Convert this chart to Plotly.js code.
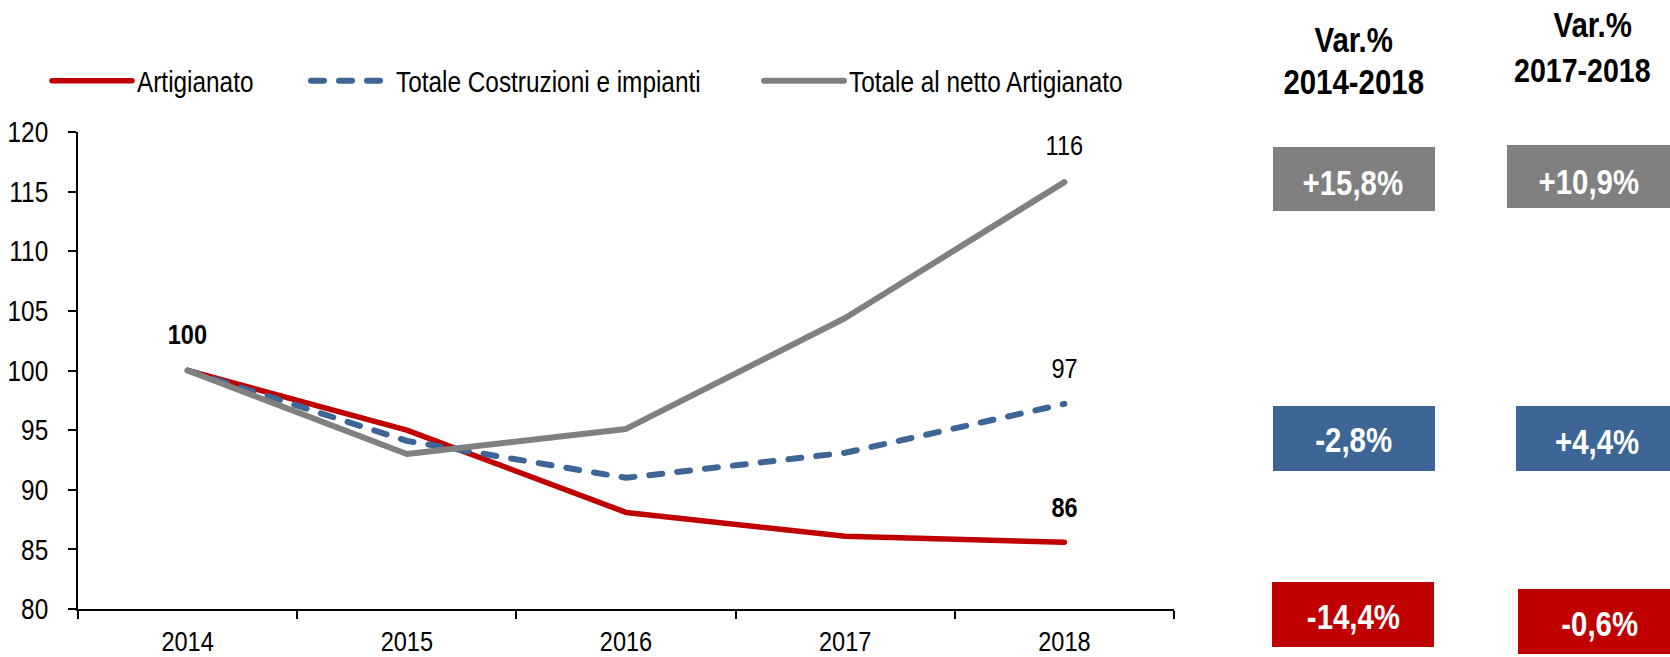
<!DOCTYPE html>
<html>
<head>
<meta charset="utf-8">
<script src="https://cdn.plot.ly/plotly-3.0.1.min.js"></script>
<style>html,body{margin:0;padding:0;background:#fff;}#chart{width:1670px;height:657px;}</style>
</head>
<body>
<div id="chart"></div>
<script>
// ---- data ----
const years = ['2014', '2015', '2016', '2017', '2018'];
const artigianato = [100, 95.0, 88.1, 86.1, 85.6];
const totaleCostruzioni = [100, 94.1, 91.0, 93.1, 97.2];
const totaleNetto = [100, 93.0, 95.1, 104.4, 115.8];
const seriesNames = ['Artigianato', 'Totale Costruzioni e impianti', 'Totale al netto Artigianato'];
const yTicks = [80, 85, 90, 95, 100, 105, 110, 115, 120];

// ---- styles ----
const FONT = '"Liberation Sans", Arial, sans-serif';
const NARROW = 0.84; // horizontal condensation applied to text (Arial Narrow look)
const RED = '#C00000', BLUE = '#3D6596', GREY = '#808080';

// plot area in pixels
const L = 78, R = 1174, T = 132, B = 609, W = 1670, H = 657;
const px = x => (x - L) / (R - L);
const py = y => (B - y) / (B - T);

const traces = [
  {x: years, y: artigianato, name: seriesNames[0], type: 'scatter', mode: 'lines',
   line: {color: RED, width: 5.5}, legend: 'legend'},
  {x: years, y: totaleCostruzioni, name: seriesNames[1], type: 'scatter', mode: 'lines',
   line: {color: BLUE, width: 6, dash: '13px,15px'}, legend: 'legend2'},
  {x: years, y: totaleNetto, name: seriesNames[2], type: 'scatter', mode: 'lines',
   line: {color: GREY, width: 6}, legend: 'legend3'}
];

const annotations = [];
const last = years.length - 1;
function dataLabel(idx, val, bold, shift) {
  annotations.push({x: idx, y: val, xref: 'x', yref: 'y', text: String(Math.round(val)),
    showarrow: false, yshift: shift, xanchor: 'center', yanchor: 'middle',
    font: {family: FONT, size: 28, color: '#000', weight: bold ? 'bold' : 'normal'}});
}
dataLabel(0, artigianato[0], true, 36);
dataLabel(last, totaleNetto[last], false, 37);
dataLabel(last, totaleCostruzioni[last], false, 35);
dataLabel(last, artigianato[last], true, 35);

// variation panel
function pct(a, b) {
  const v = (b / a - 1) * 100;
  return (v >= 0 ? '+' : '-') + Math.abs(v).toFixed(1).replace('.', ',') + '%';
}
const shapes = [];
const boxes = [
  // [x0, x1, y0, y1, colour, text, textX, textY]  (pixels)
  [1273, 1435, 147, 211, GREY, pct(totaleNetto[0], totaleNetto[last]), 1353, 182],
  [1273, 1435, 406, 471, BLUE, pct(totaleCostruzioni[0], totaleCostruzioni[last]), 1353, 440],
  [1272, 1434, 582, 647, RED, pct(artigianato[0], artigianato[last]), 1353, 616],
  [1507, 1670, 145, 208, GREY, pct(totaleNetto[last - 1], totaleNetto[last]), 1589, 181],
  [1516, 1670, 406, 471, BLUE, pct(totaleCostruzioni[last - 1], totaleCostruzioni[last]), 1597, 441],
  [1518, 1670, 589, 654, RED, pct(artigianato[last - 1], artigianato[last]), 1599, 623]
];
boxes.forEach(b => {
  shapes.push({type: 'rect', xref: 'paper', yref: 'paper', x0: px(b[0]), x1: px(b[1]), y0: py(b[3]), y1: py(b[2]),
    fillcolor: b[4], line: {width: 0}, layer: 'above'});
  annotations.push({xref: 'paper', yref: 'paper', x: px(b[6]), y: py(b[7]), xanchor: 'center', yanchor: 'middle',
    text: b[5], showarrow: false, font: {family: FONT, size: 35, color: '#fff', weight: 'bold'}});
});
function header(text, cx, cy, size) {
  annotations.push({xref: 'paper', yref: 'paper', x: px(cx), y: py(cy), xanchor: 'center', yanchor: 'middle',
    text: text, showarrow: false, font: {family: FONT, size: size, color: '#000', weight: 'bold'}});
}
header('Var.%', 1353, 40, 35);
header(years[0] + '-' + years[last], 1353, 82, 35);
header('Var.%', 1592, 25, 35);
header(years[last - 1] + '-' + years[last], 1582, 70, 34);

function legendAt(x) {
  return {orientation: 'h', x: px(x), xanchor: 'left', y: py(81), yanchor: 'middle',
    font: {family: FONT, size: 29, color: '#000'}, itemwidth: 80, bgcolor: 'rgba(0,0,0,0)', borderwidth: 0};
}

const layout = {
  width: W, height: H,
  margin: {l: L, r: W - R, t: T, b: H - B, pad: 0},
  paper_bgcolor: '#fff', plot_bgcolor: '#fff',
  font: {family: FONT, size: 29, color: '#000'},
  showlegend: true,
  legend: legendAt(47),
  legend2: legendAt(306),
  legend3: legendAt(759),
  xaxis: {type: 'category', range: [-0.5, 4.5], showline: true, linecolor: '#000', linewidth: 2,
    ticks: 'outside', tickson: 'boundaries', ticklen: 8, tickcolor: '#000', tickwidth: 2,
    showgrid: false, zeroline: false, fixedrange: true, tickfont: {family: FONT, size: 28},
    ticklabelstandoff: 6},
  yaxis: {range: [80, 120], tickvals: yTicks, ticktext: yTicks.map(String), showline: true,
    linecolor: '#000', linewidth: 2, ticks: 'outside', ticklen: 8, tickcolor: '#000', tickwidth: 2,
    showgrid: false, zeroline: false, fixedrange: true, tickfont: {family: FONT, size: 29},
    ticklabelstandoff: 14},
  shapes: shapes,
  annotations: annotations
};

Plotly.newPlot('chart', traces, layout, {displayModeBar: false, staticPlot: true}).then(gd => {
  // round line caps like the original
  gd.querySelectorAll('.scatterlayer path.js-line, .legendlines path').forEach(p => {
    p.style.strokeLinecap = 'round';
    p.style.strokeLinejoin = 'round';
  });
  // condense every text horizontally (Arial Narrow look)
  gd.querySelectorAll('svg text').forEach(t => {
    if (!t.textContent) return;
    const len = t.getComputedTextLength();
    if (len > 0) {
      t.setAttribute('textLength', (len * NARROW).toFixed(2));
      t.setAttribute('lengthAdjust', 'spacingAndGlyphs');
    }
  });
});
</script>
</body>
</html>
